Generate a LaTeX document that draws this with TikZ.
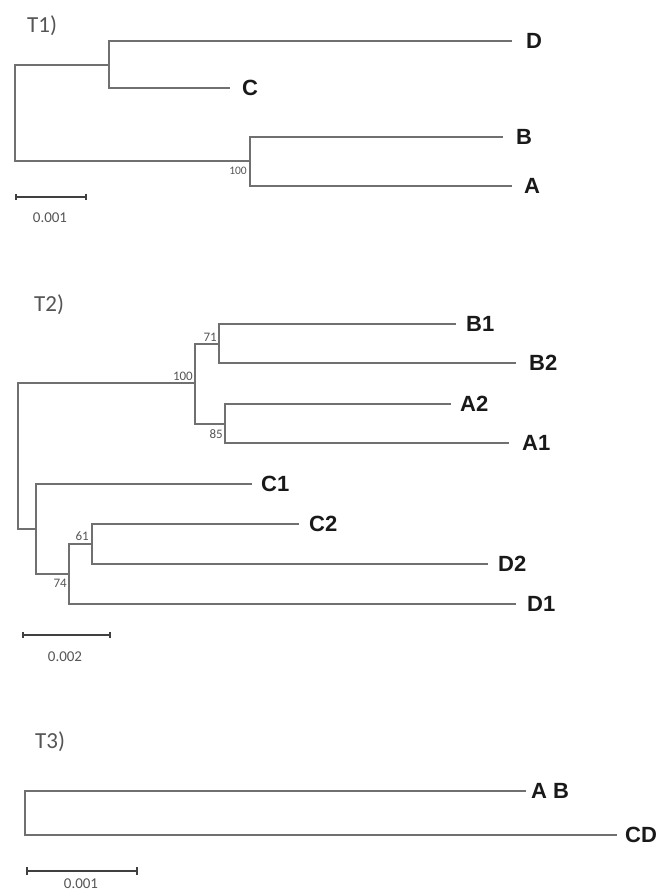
\documentclass[tikz,border=0pt]{standalone}
\usepackage{fontspec}
\setmainfont{Liberation Sans}
\newfontfamily\lightfont{Carlito}
\definecolor{brc}{HTML}{707070}
\definecolor{txg}{HTML}{555555}
\begin{document}
\begin{tikzpicture}[x=1pt,y=-1pt,
  br/.style={draw=brc, line width=1.3pt},
  leaf/.style={anchor=west, inner sep=0pt, font=\fontsize{22}{22}\selectfont\bfseries, text=black!90},
  boot/.style={inner sep=0pt, font=\lightfont\fontsize{13}{13}\selectfont, text=txg},
  bootsm/.style={boot, font=\lightfont\fontsize{11.5}{11.5}\selectfont},
  ttl/.style={inner sep=0pt, font=\lightfont\fontsize{23}{23}\selectfont, text=txg},
  scl/.style={inner sep=0pt, font=\lightfont\fontsize{15}{15}\selectfont, text=txg},
  sbar/.style={draw=black!75, line width=1.1pt}]
\useasboundingbox (0,0) rectangle (664,893);

% ---------------- T1 ----------------
\node[ttl, anchor=west] (t1) at (27,26) {T1)};
\coordinate (r1) at (15,113);
\coordinate (n1) at (109,65);
\coordinate (n2) at (250,161);
\coordinate (tD) at (512,41);
\coordinate (tC) at (230,88);
\coordinate (tB) at (503,137);
\coordinate (tA) at (512,186);
\draw[br] (r1) |- (n1);
\draw[br] (r1) |- (n2);
\draw[br] (n1) |- (tD);
\draw[br] (n1) |- (tC);
\draw[br] (n2) |- (tB);
\draw[br] (n2) |- (tA);
\node[leaf] (D) at ([xshift=14pt]tD) {D};
\node[leaf] (C) at ([xshift=12pt]tC) {C};
\node[leaf] (B) at ([xshift=13pt]tB) {B};
\node[leaf] (A) at ([xshift=12pt]tA) {A};
\node[bootsm, anchor=north east] (b1) at (247,167) {100};
\coordinate (s1a) at (16,197);
\coordinate (s1b) at (86,197);
\draw[sbar] (s1a) -- (s1b);
\draw[sbar] ([yshift=-3pt]s1a) -- ([yshift=3pt]s1a);
\draw[sbar] ([yshift=-3pt]s1b) -- ([yshift=3pt]s1b);
\node[scl] (l1) at (50,218) {0.001};

% ---------------- T2 ----------------
\node[ttl, anchor=west] (t2) at (34,305) {T2)};
\coordinate (r2) at (18,456);
\coordinate (m1) at (195,383);
\coordinate (m2) at (219,344);
\coordinate (m3) at (225,424);
\coordinate (m4) at (36,529);
\coordinate (m5) at (69,574);
\coordinate (m6) at (92,544);
\coordinate (tB1) at (456,324);
\coordinate (tB2) at (516,363);
\coordinate (tA2) at (451,404);
\coordinate (tA1) at (509,443);
\coordinate (tC1) at (252,484);
\coordinate (tC2) at (299,524);
\coordinate (tD2) at (488,564);
\coordinate (tD1) at (516,604);
\draw[br] (r2) |- (m1);
\draw[br] (r2) |- (m4);
\draw[br] (m1) |- (m2);
\draw[br] (m1) |- (m3);
\draw[br] (m2) |- (tB1);
\draw[br] (m2) |- (tB2);
\draw[br] (m3) |- (tA2);
\draw[br] (m3) |- (tA1);
\draw[br] (m4) |- (tC1);
\draw[br] (m4) |- (m5);
\draw[br] (m5) |- (m6);
\draw[br] (m5) |- (tD1);
\draw[br] (m6) |- (tC2);
\draw[br] (m6) |- (tD2);
\node[leaf] (B1) at ([xshift=10pt]tB1) {B1};
\node[leaf] (B2) at ([xshift=13pt]tB2) {B2};
\node[leaf] (A2) at ([xshift=9pt]tA2) {A2};
\node[leaf] (A1) at ([xshift=13pt]tA1) {A1};
\node[leaf] (C1) at ([xshift=9pt]tC1) {C1};
\node[leaf] (C2) at ([xshift=10pt]tC2) {C2};
\node[leaf] (D2) at ([xshift=10pt]tD2) {D2};
\node[leaf] (D1) at ([xshift=11pt]tD1) {D1};
\node[boot, anchor=south east] (b100) at (193,381) {100};
\node[boot, anchor=south east] (b71) at (217,342) {71};
\node[boot, anchor=north east] (b85) at (223,429) {85};
\node[boot, anchor=south east] (b61) at (89,541) {61};
\node[boot, anchor=north east] (b74) at (67,579) {74};
\coordinate (s2a) at (23,635);
\coordinate (s2b) at (110,635);
\draw[sbar] (s2a) -- (s2b);
\draw[sbar] ([yshift=-3pt]s2a) -- ([yshift=3pt]s2a);
\draw[sbar] ([yshift=-3pt]s2b) -- ([yshift=3pt]s2b);
\node[scl] (l2) at (65,657) {0.002};

% ---------------- T3 ----------------
\node[ttl, anchor=west] (t3) at (35,742) {T3)};
\coordinate (r3) at (25,813);
\coordinate (tAB) at (526,791);
\coordinate (tCD) at (617,835);
\draw[br] (r3) |- (tAB);
\draw[br] (r3) |- (tCD);
\node[leaf] (AB) at ([xshift=5pt]tAB) {A B};
\node[leaf] (CD) at ([xshift=8pt]tCD) {CD};
\coordinate (s3a) at (27,871);
\coordinate (s3b) at (137,871);
\draw[sbar] (s3a) -- (s3b);
\draw[sbar] ([yshift=-4pt]s3a) -- ([yshift=4pt]s3a);
\draw[sbar] ([yshift=-4pt]s3b) -- ([yshift=4pt]s3b);
\node[scl] (l3) at (81,884) {0.001};
\end{tikzpicture}
\end{document}
